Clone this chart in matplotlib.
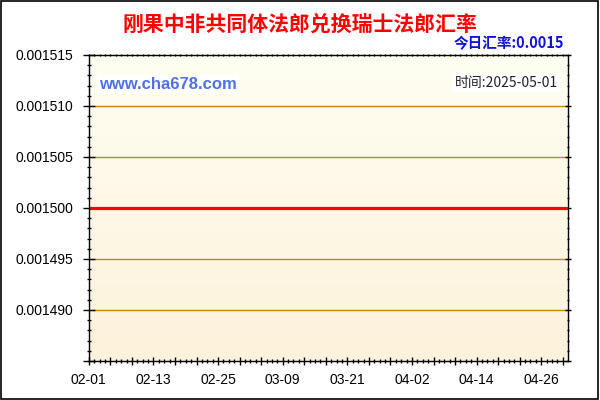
import matplotlib
matplotlib.use("Agg")
import matplotlib.pyplot as plt
import matplotlib.dates as mdates
from matplotlib.ticker import FixedLocator, MultipleLocator, FuncFormatter
import numpy as np
import pandas as pd

plt.rcParams["font.family"] = ["Liberation Sans", "Noto Sans CJK SC", "DejaVu Sans"]

# data
fechas = pd.date_range("2025-02-01", "2025-05-01", freq="D")
tasas = [0.0015] * len(fechas)
titulo = "刚果中非共同体法郎兑换瑞士法郎汇率"
hoy = "今日汇率:0.0015"
fecha_txt = "时间:2025-05-01"
web = "www.cha678.com"

fig = plt.figure(figsize=(6, 4), dpi=100)
ax = fig.add_axes([0.148, 0.0975, 0.799, 0.765])

x = mdates.date2num(fechas)
x0, x1 = x[0], x[-1]
ax.set_xlim(x0, x1)
ax.set_ylim(0.001485, 0.001515)

# fondo degradado
grad = np.linspace(0, 1, 256).reshape(-1, 1)
top = np.array([255, 254, 242]) / 255
bot = np.array([253, 242, 219]) / 255
img = top + (bot - top) * grad[:, :, None]
ax.imshow(img, extent=[x0, x1, 0.001485, 0.001515], aspect="auto", zorder=0)

for v in [0.001510, 0.001505, 0.001495, 0.001490]:
    ax.axhline(v, color="#C08A00", lw=1, zorder=1)

ax.plot(x, tasas, color="#FF0000", lw=2.3, zorder=3)


def etiqueta_y(v, p):
    if v < 0.0014875:
        return ""
    return f"{v:.6f}"


# ejes y ticks
ax.yaxis.set_major_locator(MultipleLocator(0.000005))
ax.yaxis.set_minor_locator(MultipleLocator(0.000001))
ax.yaxis.set_major_formatter(FuncFormatter(etiqueta_y))
ax.xaxis.set_major_locator(FixedLocator(np.arange(x0, x1, 4)))
ax.xaxis.set_minor_locator(FixedLocator(np.arange(x0, x1, 1)))
ax.xaxis.set_major_formatter(FuncFormatter(
    lambda v, p: mdates.num2date(v).strftime("%m-%d") if round(v - x0) % 12 == 0 else ""))

ax.tick_params(axis="y", which="major", direction="inout", length=8, width=1, pad=7, labelsize=10)
ax.tick_params(axis="y", which="minor", direction="inout", length=3, width=1)
ax.tick_params(axis="x", which="major", direction="inout", length=6, width=1, pad=6, labelsize=10)
ax.tick_params(axis="x", which="minor", direction="inout", length=2.5, width=1)
ax.tick_params(which="both", right=True, top=True)
ax.tick_params(axis="y", which="both", labelright=False)
for t in ax.yaxis.get_major_ticks():
    t.tick2line.set_markersize(4)
for t in ax.yaxis.get_minor_ticks():
    t.tick2line.set_markersize(2)
for t in ax.xaxis.get_major_ticks() + ax.xaxis.get_minor_ticks():
    t.tick2line.set_markersize(2)

for s in ax.spines.values():
    s.set_linewidth(1)
    s.set_zorder(5)

ax.text(0.022, 0.905, web, transform=ax.transAxes, color="#5070E8", fontsize=12,
        fontweight="bold", va="center", ha="left",
        bbox=dict(facecolor="white", edgecolor="none", pad=1.5), zorder=6)
ax.text(0.978, 0.91, fecha_txt, transform=ax.transAxes, color="#222222", fontsize=10,
        va="center", ha="right", family=["Noto Sans CJK SC", "DejaVu Sans"],
        bbox=dict(facecolor="white", edgecolor="none", pad=1.5), zorder=6)

fig.text(0.5, 0.94, titulo, color="#FF0000", fontsize=15, fontweight="bold",
         ha="center", va="center", family=["Noto Sans CJK SC", "DejaVu Sans"])
fig.text(0.94, 0.892, hoy, color="#1010E0", fontsize=10.5, fontweight="bold",
         ha="right", va="center", family=["Noto Sans CJK SC", "DejaVu Sans"])

fig.patches.append(plt.Rectangle((0.002, 0.003), 0.995, 0.994, transform=fig.transFigure,
                                 fill=False, edgecolor="black", lw=1.2))

fig.savefig("out.png", dpi=100)
